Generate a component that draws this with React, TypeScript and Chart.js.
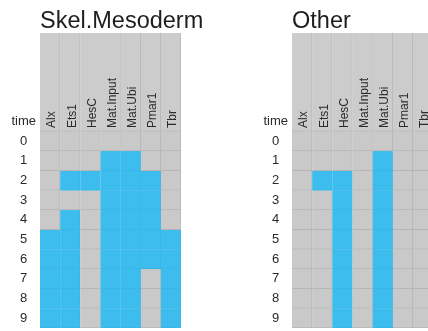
import React, { useEffect, useRef } from "react";
import { Chart, registerables } from "chart.js";

Chart.register(...registerables);

const columns = ["Alx", "Ets1", "HesC", "Mat.Input", "Mat.Ubi", "Pmar1", "Tbr"];
const timeLabels = ["0", "1", "2", "3", "4", "5", "6", "7", "8", "9"];
const rowAxisTitle = "time";

// 1 = active (blue), 0 = inactive (grey); rows = time 0..9, cols = columns
const skelMesoderm = [
  [0, 0, 0, 0, 0, 0, 0],
  [0, 0, 0, 1, 1, 0, 0],
  [0, 1, 1, 1, 1, 1, 0],
  [0, 0, 0, 1, 1, 1, 0],
  [0, 1, 0, 1, 1, 1, 0],
  [1, 1, 0, 1, 1, 1, 1],
  [1, 1, 0, 1, 1, 1, 1],
  [1, 1, 0, 1, 1, 0, 1],
  [1, 1, 0, 1, 1, 0, 1],
  [1, 1, 0, 1, 1, 0, 1],
];

const other = [
  [0, 0, 0, 0, 0, 0, 0],
  [0, 0, 0, 0, 1, 0, 0],
  [0, 1, 1, 0, 1, 0, 0],
  [0, 0, 1, 0, 1, 0, 0],
  [0, 0, 1, 0, 1, 0, 0],
  [0, 0, 1, 0, 1, 0, 0],
  [0, 0, 1, 0, 1, 0, 0],
  [0, 0, 1, 0, 1, 0, 0],
  [0, 0, 1, 0, 1, 0, 0],
  [0, 0, 1, 0, 1, 0, 0],
];

const HEADER_ROWS = 5;
const BLUE = "#3dbdee";
const BLUE_LINE = "#3ab6e6";
const GREY = "#c9c9c9";
const HEADER_GREY = "#cccccc";
const LINE = "#b5b5b5";
const FONT = "'Liberation Sans', Arial, Helvetica, sans-serif";

const panelTitlePlugin = {
  id: "panelTitle",
  afterDraw(chart: any, _args: any, opts: any) {
    const ctx = chart.ctx;
    ctx.save();
    ctx.fillStyle = "#1e1e1e";
    ctx.font = `23.5px ${FONT}`;
    ctx.textAlign = "left";
    ctx.textBaseline = "alphabetic";
    ctx.fillText(opts.text, chart.chartArea.left, 27.5);
    ctx.restore();
  },
};

function Heatmap({ title, matrix, left }: { title: string; matrix: number[][]; left: number }) {
  const ref = useRef<HTMLCanvasElement | null>(null);

  useEffect(() => {
    if (!ref.current) return;
    const common = {
      grouped: false,
      barPercentage: 1,
      categoryPercentage: 1,
      borderSkipped: false,
    };
    const datasets: any[] = [
      {
        ...common,
        label: "header",
        data: columns.map(() => [-HEADER_ROWS, 0]),
        backgroundColor: HEADER_GREY,
        borderColor: LINE,
        borderWidth: { top: 0, left: 0, right: 1, bottom: 1 },
      },
    ];
    matrix.forEach((row, r) => {
      datasets.push({
        ...common,
        label: timeLabels[r],
        data: row.map(() => [r, r + 1]),
        backgroundColor: row.map((v) => (v ? BLUE : GREY)),
        borderColor: row.map((v) => (v ? BLUE_LINE : LINE)),
        borderWidth: { top: 0, left: 0, right: 1, bottom: 1 },
      });
    });

    const chart = new Chart(ref.current, {
      type: "bar",
      data: { labels: columns, datasets },
      plugins: [panelTitlePlugin],
      options: {
        animation: false,
        responsive: false,
        events: [],
        layout: { padding: { left: 0, right: 33, top: 0, bottom: 3 } },
        plugins: {
          legend: { display: false },
          tooltip: { enabled: false },
          title: { display: false },
          panelTitle: { text: title },
        },
        scales: {
          x: {
            type: "category",
            position: "top",
            offset: true,
            grid: { display: false, drawTicks: false },
            border: { display: false },
            ticks: {
              z: 1,
              mirror: true,
              autoSkip: false,
              minRotation: 90,
              maxRotation: 90,
              padding: 95,
              labelOffset: 2,
              color: "#2a2a2a",
              font: { family: FONT, size: 12 },
            },
            afterFit: (s: any) => {
              s.height = 33;
              s.paddingLeft = 0;
              s.paddingRight = 0;
            },
          },
          y: {
            type: "linear",
            min: -HEADER_ROWS,
            max: timeLabels.length,
            reverse: true,
            grid: { display: false, drawTicks: false },
            border: { display: false },
            afterBuildTicks: (s: any) => {
              s.ticks = [{ value: -0.5 }, ...timeLabels.map((_, i) => ({ value: i + 0.5 }))];
            },
            ticks: {
              autoSkip: false,
              crossAlign: "center",
              padding: 4,
              color: "#2a2a2a",
              font: { family: FONT, size: 13 },
              callback: (v: any) => (v < 0 ? rowAxisTitle : timeLabels[Math.floor(v)]),
            },
            afterFit: (s: any) => {
              s.width = 40;
              s.paddingTop = 0;
              s.paddingBottom = 0;
            },
          },
        },
      } as any,
    });
    return () => chart.destroy();
  }, [title, matrix]);

  return (
    <canvas
      ref={ref}
      width={214}
      height={331}
      style={{ position: "absolute", left, top: 0, width: 214, height: 331 }}
    />
  );
}

export default function App() {
  return (
    <div
      style={{
        position: "fixed",
        left: 0,
        top: 0,
        width: 428,
        height: 331,
        overflow: "hidden",
        background: "#ffffff",
      }}
    >
      <Heatmap title="Skel.Mesoderm" matrix={skelMesoderm} left={0} />
      <Heatmap title="Other" matrix={other} left={252} />
    </div>
  );
}
